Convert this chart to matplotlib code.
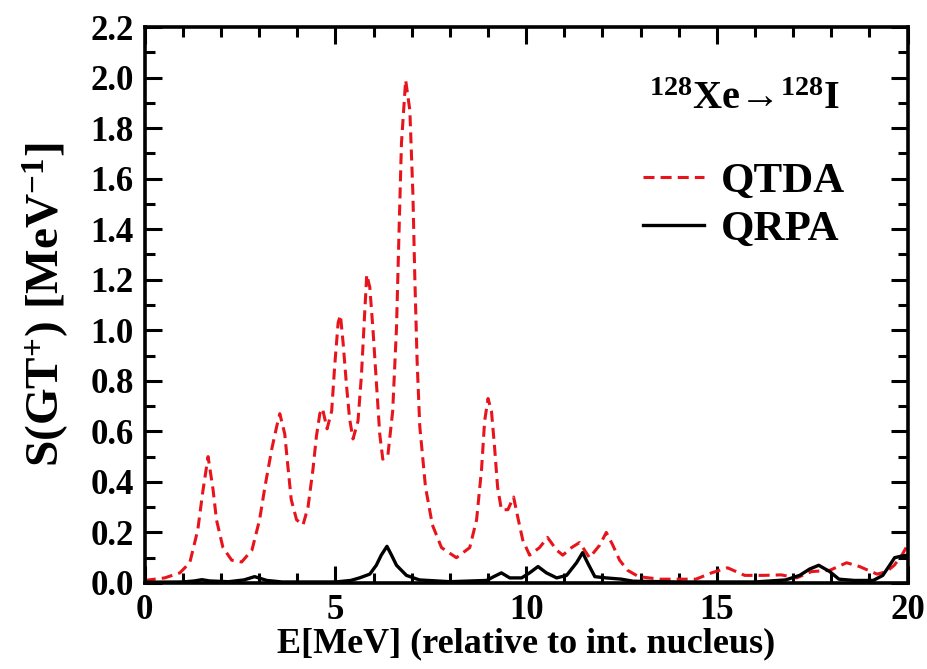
import matplotlib
matplotlib.use("Agg")
import matplotlib.pyplot as plt
from matplotlib.ticker import MultipleLocator

plt.rcParams['font.family'] = ['Liberation Serif', 'DejaVu Serif']
plt.rcParams['font.weight'] = 'bold'
plt.rcParams['axes.labelweight'] = 'bold'
plt.rcParams['mathtext.fontset'] = 'custom'
plt.rcParams['mathtext.rm'] = 'Liberation Serif:bold'
plt.rcParams['mathtext.bf'] = 'Liberation Serif:bold'
plt.rcParams['mathtext.it'] = 'Liberation Serif:bold'

# QTDA strength function
e_qtda = [0.0, 0.52, 0.92, 1.18, 1.39, 1.52, 1.66, 1.79, 1.88, 2.05, 2.28, 2.54,
          2.81, 3.01, 3.15, 3.33, 3.46, 3.54, 3.67, 3.76, 3.84, 3.98, 4.15, 4.28,
          4.41, 4.5, 4.59, 4.66, 4.78, 4.9, 4.98, 5.07, 5.13, 5.2, 5.29, 5.37,
          5.46, 5.59, 5.68, 5.77, 5.82, 5.9, 5.98, 6.07, 6.16, 6.24, 6.37, 6.5,
          6.6, 6.67, 6.73, 6.84, 6.95, 7.03, 7.08, 7.14, 7.21, 7.36, 7.54, 7.78,
          8.17, 8.52, 8.7, 8.83, 8.91, 9.0, 9.09, 9.17, 9.25, 9.35, 9.52, 9.67,
          9.78, 9.91, 10.09, 10.35, 10.56, 10.8, 10.96, 11.19, 11.4, 11.66, 11.93,
          12.1, 12.27, 12.45, 12.66, 12.95, 13.5, 14.0, 14.45, 14.86, 15.28,
          15.73, 16.2, 16.69, 17.09, 17.48, 17.96, 18.4, 18.74, 19.2, 19.45,
          19.65, 19.85, 20.0]
s_qtda = [0.01, 0.02, 0.04, 0.08, 0.21, 0.36, 0.50, 0.37, 0.25, 0.14, 0.09, 0.083,
          0.13, 0.25, 0.38, 0.53, 0.62, 0.67, 0.59, 0.45, 0.33, 0.25, 0.23, 0.30,
          0.45, 0.58, 0.67, 0.69, 0.61, 0.68, 0.86, 1.03, 1.06, 0.95, 0.78, 0.65,
          0.57, 0.64, 0.82, 1.08, 1.22, 1.17, 1.01, 0.80, 0.59, 0.49, 0.50, 0.68,
          1.01, 1.41, 1.74, 1.99, 1.87, 1.54, 1.21, 0.88, 0.62, 0.38, 0.23, 0.14,
          0.10, 0.14, 0.25, 0.45, 0.64, 0.73, 0.68, 0.54, 0.38, 0.29, 0.29, 0.34,
          0.26, 0.17, 0.11, 0.14, 0.18, 0.13, 0.11, 0.14, 0.16, 0.10, 0.15,
          0.20, 0.15, 0.09, 0.05, 0.025, 0.015, 0.015, 0.015, 0.04, 0.06,
          0.03, 0.03, 0.032, 0.02, 0.045, 0.05, 0.08, 0.065, 0.035, 0.045,
          0.07, 0.11, 0.15]

# QRPA strength function
e_qrpa = [0.0, 1.0, 1.3, 1.5, 1.7, 2.2, 2.6, 2.88, 3.2, 3.6, 5.0, 5.4, 5.63, 5.9,
          6.07, 6.2, 6.35, 6.47, 6.6, 6.86, 7.2, 8.0, 8.96, 9.15, 9.35, 9.57, 9.88,
          10.09, 10.31, 10.53, 10.8, 11.06, 11.32, 11.48, 11.61, 11.8, 12.1, 12.5,
          12.8, 14.0, 16.0, 16.8, 17.17, 17.43, 17.67, 17.96, 18.2, 18.6, 19.1,
          19.35, 19.53, 19.66, 19.8, 20.0]
s_qrpa = [0.003, 0.004, 0.008, 0.013, 0.008, 0.005, 0.012, 0.025, 0.01, 0.004,
          0.004, 0.01, 0.02, 0.035, 0.07, 0.11, 0.145, 0.11, 0.07, 0.03, 0.012,
          0.005, 0.01, 0.025, 0.04, 0.02, 0.02, 0.04, 0.065, 0.04, 0.02, 0.03,
          0.08, 0.12, 0.08, 0.025, 0.02, 0.015, 0.007, 0.004, 0.004, 0.012, 0.03,
          0.055, 0.07, 0.045, 0.015, 0.01, 0.01, 0.03, 0.07, 0.1, 0.105, 0.11]

fig = plt.figure(figsize=(9.28, 6.69), dpi=100)
ax = fig.add_axes([0.156, 0.1286, 0.822, 0.831])

ax.plot(e_qtda, s_qtda, color='#e8141c', lw=2.2, ls=(0, (3.6, 2.0)), label='QTDA')
ax.plot(e_qrpa, s_qrpa, color='black', lw=2.4, label='QRPA')

ax.set_xlim(0, 20)
ax.set_ylim(0, 2.2)
ax.xaxis.set_major_locator(MultipleLocator(5))
ax.xaxis.set_minor_locator(MultipleLocator(1))
ax.yaxis.set_major_locator(MultipleLocator(0.2))
ax.yaxis.set_minor_locator(MultipleLocator(0.1))
ax.yaxis.set_major_formatter(plt.FuncFormatter(lambda v, p: '%.1f' % v))
ax.tick_params(which='both', direction='in', top=True, right=True,
               width=2.2, labelsize=25)
ax.tick_params(axis='x', pad=8)
ax.tick_params(axis='y', pad=8)
ax.tick_params(which='major', length=12)
ax.tick_params(which='minor', length=7)
for sp in ax.spines.values():
    sp.set_linewidth(2.6)

ax.set_xlabel('E[MeV] (relative to int. nucleus)', fontsize=26, labelpad=0)
ax.set_ylabel(r'S(GT$^{+}$) [MeV$^{-1}$]', fontsize=34, labelpad=14)

ax.text(0.911, 0.869, r'$^{128}$Xe→$^{128}$I', transform=ax.transAxes,
        ha='right', va='center', fontsize=29)
ax.legend(loc='upper right', bbox_to_anchor=(0.918, 0.757), frameon=False,
          borderaxespad=0, borderpad=0, fontsize=31, handlelength=1.4,
          handletextpad=0.4, labelspacing=0.2)

fig.savefig('out.png', dpi=100)
